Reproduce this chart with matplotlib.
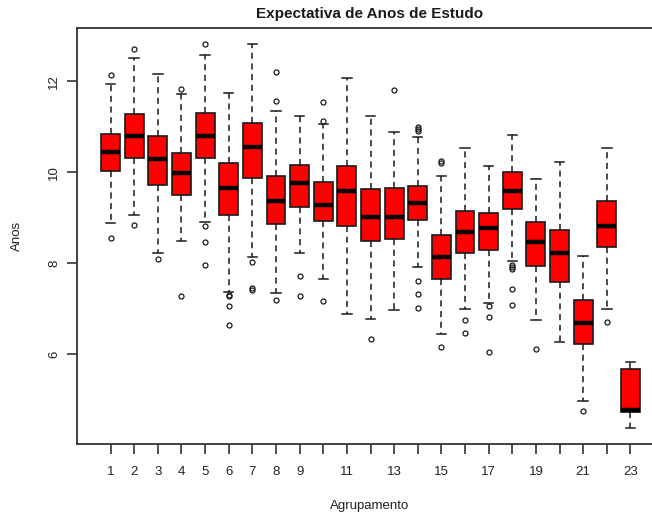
import matplotlib.pyplot as plt
import numpy as np

plt.rcParams['font.family'] = ['Liberation Sans', 'DejaVu Sans']

# five-number summaries per group (Anos de estudo)
groups = list(range(1, 24))
q1 = [10.03, 10.31, 9.72, 9.49, 10.31, 9.05, 9.87, 8.86, 9.24, 8.92, 8.82, 8.48,
      8.53, 8.95, 7.65, 8.23, 8.29, 9.18, 7.93, 7.59, 6.23, 8.35, 4.73]
medians = [10.44, 10.79, 10.29, 9.97, 10.79, 9.65, 10.55, 9.37, 9.75, 9.28, 9.585, 9.01,
           9.01, 9.33, 8.13, 8.68, 8.76, 9.59, 8.46, 8.23, 6.68, 8.82, 4.77]
q3 = [10.83, 11.27, 10.79, 10.41, 11.30, 10.19, 11.07, 9.91, 10.16, 9.78, 10.13, 9.62,
      9.65, 9.69, 8.61, 9.15, 9.11, 10.00, 8.90, 8.73, 7.18, 9.37, 5.66]
whisker_lo = [8.87, 9.05, 8.23, 8.48, 8.90, 7.37, 8.13, 7.35, 8.23, 7.66, 6.89, 6.77,
              6.96, 7.91, 6.45, 6.99, 7.12, 8.04, 6.74, 6.26, 4.97, 6.99, 4.37]
whisker_hi = [11.94, 12.50, 12.16, 11.71, 12.57, 11.75, 12.82, 11.34, 11.24, 11.05, 12.06, 11.24,
              10.88, 10.77, 9.91, 10.52, 10.13, 10.82, 9.84, 10.23, 8.16, 10.52, 5.82]
outliers = [
    [12.14, 8.56],
    [12.71, 8.84],
    [8.09],
    [11.82, 7.27],
    [12.81, 8.81, 8.46, 7.96],
    [7.29, 7.27, 7.05, 6.63],
    [8.02, 7.46, 7.40],
    [12.21, 11.57, 7.19],
    [7.71, 7.27],
    [11.55, 11.13, 7.16],
    [],
    [6.34],
    [11.80],
    [10.99, 10.94, 10.90, 7.61, 7.32, 7.01],
    [10.24, 10.19, 6.16],
    [6.75, 6.46],
    [7.05, 6.82, 6.05],
    [7.95, 7.91, 7.87, 7.42, 7.07],
    [6.11],
    [],
    [4.75],
    [6.71],
    [],
]

stats = []
for i in range(len(groups)):
    stats.append(dict(med=medians[i], q1=q1[i], q3=q3[i],
                      whislo=whisker_lo[i], whishi=whisker_hi[i],
                      fliers=outliers[i], label=str(groups[i])))

fig = plt.figure(figsize=(6.52, 5.16), dpi=100)
# plot region runs past the right edge of the image
ax = fig.add_axes([77 / 652, 72 / 516, 587 / 652, 416 / 516])

ax.bxp(stats, positions=groups, widths=0.8, patch_artist=True,
       boxprops=dict(facecolor='#ff0000', edgecolor='#1a1a1a', linewidth=1.2),
       medianprops=dict(color='black', linewidth=3.2, solid_capstyle='butt'),
       whiskerprops=dict(color='#1a1a1a', linestyle=(0, (4, 3)), linewidth=1.1),
       capprops=dict(color='#1a1a1a', linewidth=1.1),
       capwidths=0.4,
       flierprops=dict(marker='o', markerfacecolor='none', markeredgecolor='#1a1a1a',
                       markersize=3.6, markeredgewidth=0.9))

ax.set_xlim(-0.42, 24.42)
ax.set_ylim(4.02, 13.17)

ax.set_xticks(groups)
ax.set_xticklabels([str(g) if (g <= 9 or g % 2 == 1) else '' for g in groups], fontsize=9.5)
ax.set_yticks([6, 8, 10, 12])
ax.set_yticklabels(['6', '8', '10', '12'], fontsize=9.5, rotation=90, va='center')
ax.tick_params(axis='x', length=7, width=1.1, pad=9, colors='#222222')
ax.tick_params(axis='y', length=7, width=1.1, pad=5, colors='#222222')

for side in ax.spines.values():
    side.set_linewidth(1.3)
    side.set_color('#333333')

ax.set_title('Expectativa de Anos de Estudo', fontsize=11, fontweight='bold',
             color='#1a1a1a', pad=7, x=(370 - 77) / 587)
ax.set_xlabel('Agrupamento', fontsize=9.5, color='#222222')
ax.xaxis.set_label_coords((370 - 77) / 587, -0.135)
ax.set_ylabel('Anos', fontsize=9.5, color='#222222')
ax.yaxis.set_label_coords(-0.092, 0.5)

fig.savefig('out.png', dpi=100)
